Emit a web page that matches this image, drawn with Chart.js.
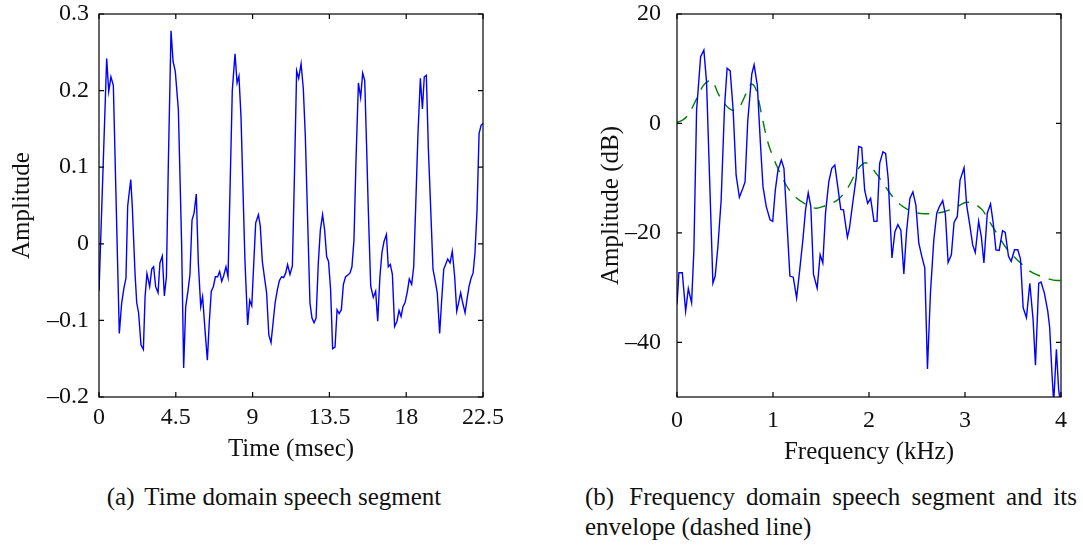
<!DOCTYPE html>
<html>
<head>
<meta charset="utf-8">
<script src="https://cdn.jsdelivr.net/npm/chart.js@4.4.1/dist/chart.umd.min.js"></script>
<style>
  body { margin: 0; background: #fff; width: 1083px; height: 548px; overflow: hidden; position: relative; }
  canvas { position: absolute; top: 0; }
  #left { left: 0; }
  #right { left: 540px; }
  .cap { position: absolute; font-family: "Liberation Serif", "Times New Roman", serif; font-size: 25px; line-height: 30px; color: #111; }
  .cap .lab { margin-right: 4px; }
  #capA { left: 4px; width: 540px; top: 482px; text-align: center; }
  #capB { left: 585px; width: 492px; top: 482px; text-align: justify; text-align-last: left; }
</style>
</head>
<body>
<canvas id="left" width="540" height="470"></canvas>
<canvas id="right" width="543" height="470"></canvas>
<div class="cap" id="capA"><span class="lab">(a)</span> Time domain speech segment</div>
<div class="cap" id="capB"><span class="lab">(b)</span> Frequency domain speech segment and its envelope (dashed line)</div>

<script>
// (a) time domain segment
const timeMs = [0, 0.45, 0.57, 0.70, 0.84, 1.19, 1.33, 1.46, 1.58, 1.68, 1.86, 1.95, 2.11, 2.21, 2.32, 2.46, 2.60, 2.70, 2.81, 2.97,
  3.09, 3.20, 3.32, 3.46, 3.57, 3.71, 3.83, 3.95, 4.06, 4.22, 4.34, 4.47, 4.65, 4.84, 4.96, 5.08, 5.21, 5.33, 5.45, 5.57,
  5.70, 5.82, 5.96, 6.07, 6.21, 6.35, 6.46, 6.58, 6.70, 6.82, 6.95, 7.07, 7.19, 7.30, 7.44, 7.56, 7.81, 7.97, 8.09, 8.20,
  8.32, 8.55, 8.71, 8.83, 8.95, 9.18, 9.34, 9.45, 9.57, 9.69, 9.82, 9.95, 10.08, 10.20, 10.32, 10.45, 10.57, 10.70, 10.82, 10.94,
  11.05, 11.19, 11.33, 11.45, 11.58, 11.70, 11.84, 11.97, 12.09, 12.36, 12.48, 12.60, 12.72, 12.85, 12.97, 13.10, 13.22, 13.34, 13.45, 13.57,
  13.69, 13.83, 13.95, 14.07, 14.20, 14.32, 14.45, 14.57, 14.71, 14.82, 14.94, 15.06, 15.20, 15.33, 15.45, 15.57, 15.68, 15.78, 15.92, 16.07,
  16.21, 16.33, 16.46, 16.58, 16.70, 16.84, 16.95, 17.07, 17.19, 17.32, 17.46, 17.58, 17.70, 17.81, 17.93, 18.07, 18.18, 18.32, 18.44, 18.55,
  18.69, 18.83, 18.95, 19.06, 19.18, 19.30, 19.43, 19.57, 19.69, 19.82, 19.96, 20.08, 20.20, 20.31, 20.43, 20.57, 20.70, 20.84, 20.96, 21.07,
  21.19, 21.31, 21.45, 21.56, 21.68, 21.80, 21.92, 22.03, 22.15, 22.27, 22.39, 22.5]
const timeAmp = [-0.062, 0.242, 0.199, 0.218, 0.207, -0.117, -0.077, -0.058, -0.045, 0.049, 0.084, 0.049, -0.038, -0.077, -0.090, -0.132, -0.138, -0.069, -0.039, -0.056,
  -0.033, -0.030, -0.056, -0.064, -0.025, -0.016, -0.068, -0.043, 0.101, 0.278, 0.238, 0.225, 0.175, 0.001, -0.162, -0.082, -0.062, -0.040, 0.031, 0.040,
  0.065, -0.025, -0.082, -0.069, -0.112, -0.152, -0.103, -0.062, -0.056, -0.043, -0.043, -0.036, -0.049, -0.042, -0.030, -0.043, 0.200, 0.248, 0.210, 0.219,
  0.166, -0.021, -0.106, -0.074, -0.081, 0.027, 0.038, 0.023, -0.023, -0.043, -0.064, -0.119, -0.129, -0.103, -0.077, -0.060, -0.048, -0.043, -0.044, -0.038,
  -0.027, -0.040, -0.029, 0.088, 0.226, 0.216, 0.235, 0.203, 0.140, -0.077, -0.097, -0.103, -0.097, -0.025, 0.018, 0.038, 0.018, -0.017, -0.023, -0.060,
  -0.137, -0.135, -0.086, -0.091, -0.086, -0.053, -0.043, -0.041, -0.038, -0.030, 0.005, 0.110, 0.210, 0.191, 0.223, 0.213, 0.127, 0.044, -0.055, -0.070,
  -0.062, -0.101, -0.043, -0.011, 0.003, 0.012, -0.030, -0.027, -0.040, -0.108, -0.101, -0.087, -0.095, -0.082, -0.077, -0.062, -0.046, -0.053, -0.030, 0.044,
  0.144, 0.216, 0.176, 0.218, 0.220, 0.123, 0.049, -0.033, -0.047, -0.064, -0.117, -0.073, -0.033, -0.027, -0.020, -0.025, -0.010, -0.043, -0.088, -0.077,
  -0.064, -0.077, -0.090, -0.073, -0.056, -0.045, -0.038, -0.012, 0.044, 0.144, 0.155, 0.157]

// (b) spectrum in dB and its envelope
const specKhz = [0, 0.020, 0.055, 0.090, 0.118, 0.152, 0.176, 0.204, 0.246, 0.280, 0.308, 0.339, 0.374, 0.398, 0.426, 0.460, 0.495, 0.522, 0.554, 0.585,
  0.616, 0.650, 0.685, 0.709, 0.737, 0.779, 0.803, 0.837, 0.869, 0.896, 0.930, 0.969, 0.997, 1.024, 1.052, 1.087, 1.114, 1.142, 1.176, 1.211,
  1.246, 1.277, 1.311, 1.339, 1.367, 1.394, 1.422, 1.460, 1.491, 1.519, 1.547, 1.581, 1.612, 1.644, 1.675, 1.706, 1.734, 1.775, 1.796, 1.830,
  1.865, 1.893, 1.924, 1.955, 1.986, 2.017, 2.052, 2.083, 2.111, 2.145, 2.173, 2.200, 2.239, 2.270, 2.301, 2.332, 2.363, 2.391, 2.426, 2.457,
  2.488, 2.519, 2.550, 2.581, 2.609, 2.640, 2.675, 2.706, 2.734, 2.768, 2.796, 2.824, 2.858, 2.886, 2.920, 2.948, 2.990, 3.017, 3.052, 3.080,
  3.107, 3.142, 3.170, 3.197, 3.232, 3.266, 3.294, 3.322, 3.356, 3.391, 3.419, 3.453, 3.481, 3.516, 3.550, 3.578, 3.606, 3.640, 3.675, 3.709,
  3.734, 3.768, 3.792, 3.827, 3.862, 3.882, 3.907, 3.924, 3.952, 3.975, 4.0]
const specDb = [-33.1, -27.3, -27.3, -34.3, -30.2, -32.8, -23.1, 2.4, 12.2, 13.4, 7.5, -9.8, -29.2, -27.9, -22.5, -14.0, 3.0, 10.1, 9.6, 2.4,
  -9.5, -13.5, -11.9, -10.7, 0.5, 9.0, 10.7, 6.9, -3.7, -11.6, -15.2, -17.6, -17.9, -12.2, -8.5, -6.7, -8.2, -17.0, -27.9, -28.1,
  -31.9, -27.0, -21.3, -15.8, -12.7, -15.2, -27.6, -30.1, -24.0, -25.5, -16.4, -10.7, -8.2, -7.6, -11.6, -15.7, -15.8, -20.8, -19.2, -14.6,
  -10.1, -4.2, -4.4, -12.2, -14.6, -13.7, -17.9, -17.9, -7.3, -5.2, -5.5, -10.1, -24.6, -19.8, -18.5, -19.5, -27.5, -19.8, -13.7, -12.5,
  -14.9, -21.9, -24.3, -26.4, -44.9, -31.0, -21.3, -16.4, -15.2, -14.1, -16.7, -25.4, -24.0, -18.1, -17.0, -10.4, -8.1, -14.9, -18.8, -22.2,
  -23.6, -17.9, -20.7, -25.5, -16.4, -14.7, -18.2, -23.1, -23.2, -19.6, -19.9, -24.3, -25.2, -23.1, -23.1, -24.8, -33.7, -35.5, -29.2, -35.8,
  -44.2, -29.2, -29.0, -31.0, -34.3, -37.3, -46.1, -51.0, -41.3, -48.5, -52.0]

const envKhz = [0, 0.066, 0.118, 0.204, 0.273, 0.360, 0.430, 0.526, 0.585, 0.654, 0.734, 0.775, 0.827, 0.886, 0.941, 1.000, 1.059, 1.138, 1.232, 1.381,
  1.450, 1.519, 1.685, 1.785, 1.879, 1.965, 2.090, 2.176, 2.280, 2.400, 2.574, 2.713, 2.886, 3.024, 3.180, 3.260, 3.353, 3.439, 3.561, 3.675,
  3.837, 3.958, 4.0]
const envDb = [0.2, 0.7, 1.6, 4.5, 6.9, 7.9, 5.4, 3.0, 2.4, 3.1, 6.0, 7.2, 6.0, 1.2, -3.1, -6.1, -8.5, -11.3, -13.4, -15.1,
  -15.5, -15.2, -13.8, -11.6, -8.5, -7.2, -9.5, -11.7, -14.1, -15.7, -16.5, -16.4, -15.5, -14.4, -15.8, -18.1, -20.7, -23.0, -25.2, -27.0,
  -28.2, -28.7, -28.7]

// tick labels
const leftXTicks = [0, 4.5, 9, 13.5, 18, 22.5]
const leftYTicks = [-0.2, -0.1, 0, 0.1, 0.2, 0.3]
const rightXTicks = [0, 1, 2, 3, 4]
const rightYTicks = [-40, -20, 0, 20]

const serif = "'Liberation Serif', 'Times New Roman', serif"

function pairs(xs, ys) {
  return xs.map((x, i) => ({ x: x, y: ys[i] }))
}

function fmt(v) {
  let r = Math.round(v * 1000) / 1000
  if (r === 0) return "0"
  return (r < 0 ? "\u2013" : "") + Math.abs(r)
}

// matlab style box with inward ticks on all four sides
const boxTicks = {
  id: "boxTicks",
  afterDraw(chart) {
    let ctx = chart.ctx
    let a = chart.chartArea
    let xs = chart.scales.x
    let ys = chart.scales.y
    let len = 5
    ctx.save()
    ctx.strokeStyle = "#000"
    ctx.lineWidth = 1.2
    ctx.beginPath()
    xs.ticks.forEach((t) => {
      let px = xs.getPixelForValue(t.value)
      ctx.moveTo(px, a.bottom)
      ctx.lineTo(px, a.bottom - len)
      ctx.moveTo(px, a.top)
      ctx.lineTo(px, a.top + len)
    })
    ys.ticks.forEach((t) => {
      let py = ys.getPixelForValue(t.value)
      ctx.moveTo(a.left, py)
      ctx.lineTo(a.left + len, py)
      ctx.moveTo(a.right, py)
      ctx.lineTo(a.right - len, py)
    })
    ctx.stroke()
    ctx.strokeRect(a.left, a.top, a.right - a.left, a.bottom - a.top)
    ctx.restore()
  }
}

function axes(o) {
  return {
    x: {
      type: "linear",
      min: o.xmin, max: o.xmax,
      afterBuildTicks: (s) => { s.ticks = o.xticks.map((v) => ({ value: v })) },
      afterFit: (s) => { s.height = o.xh; s.paddingLeft = 0; s.paddingRight = 0 },
      grid: { display: false, drawTicks: false },
      border: { display: false },
      ticks: { color: "#111", padding: o.xpad, maxRotation: 0, autoSkip: false, font: { family: serif, size: 24 }, callback: (v) => fmt(v) },
      title: { display: true, text: o.xtitle, color: "#111", padding: { top: 0, bottom: o.xtpad }, font: { family: serif, size: 25 } }
    },
    y: {
      type: "linear",
      min: o.ymin, max: o.ymax,
      afterBuildTicks: (s) => { s.ticks = o.yticks.map((v) => ({ value: v })) },
      // keep the label overhang from pushing the plot box down
      afterFit: (s) => { s.width = o.yw; s.paddingTop = 0; s.paddingBottom = 0 },
      grid: { display: false, drawTicks: false },
      border: { display: false },
      ticks: { color: "#111", padding: o.ypad, autoSkip: false, font: { family: serif, size: 24 }, callback: (v) => fmt(v) },
      title: { display: true, text: o.ytitle, color: "#111", padding: { top: 4, bottom: 0 }, font: { family: serif, size: 25 } }
    }
  }
}

new Chart(document.getElementById("left"), {
  type: "line",
  data: {
    datasets: [{
      data: pairs(timeMs, timeAmp),
      borderColor: "#0000ff",
      borderWidth: 1.4,
      pointRadius: 0,
      tension: 0
    }]
  },
  options: {
    responsive: false,
    animation: false,
    devicePixelRatio: 1,
    layout: { padding: { left: 3, top: 14, right: 57, bottom: 0 } },
    plugins: { legend: { display: false }, tooltip: { enabled: false } },
    scales: axes({
      xmin: 0, xmax: 22.5, xticks: leftXTicks, xh: 73, xpad: 6, xtpad: 6, xtitle: "Time (msec)",
      ymin: -0.2, ymax: 0.3, yticks: leftYTicks, yw: 96, ypad: 10, ytitle: "Amplitude"
    })
  },
  plugins: [boxTicks]
})

new Chart(document.getElementById("right"), {
  type: "line",
  data: {
    datasets: [{
      data: pairs(specKhz, specDb),
      borderColor: "#0000ff",
      borderWidth: 1.4,
      pointRadius: 0,
      tension: 0
    }, {
      data: pairs(envKhz, envDb),
      borderColor: "#008000",
      borderWidth: 1.4,
      borderDash: [12, 9],
      pointRadius: 0,
      cubicInterpolationMode: "monotone"
    }]
  },
  options: {
    responsive: false,
    animation: false,
    devicePixelRatio: 1,
    layout: { padding: { left: 52, top: 14, right: 22, bottom: 0 } },
    plugins: { legend: { display: false }, tooltip: { enabled: false } },
    scales: axes({
      xmin: 0, xmax: 4, xticks: rightXTicks, xh: 73, xpad: 9, xtpad: 3, xtitle: "Frequency (kHz)",
      ymin: -50, ymax: 20, yticks: rightYTicks, yw: 85, ypad: 16, ytitle: "Amplitude (dB)"
    })
  },
  plugins: [boxTicks]
})
</script>
</body>
</html>
